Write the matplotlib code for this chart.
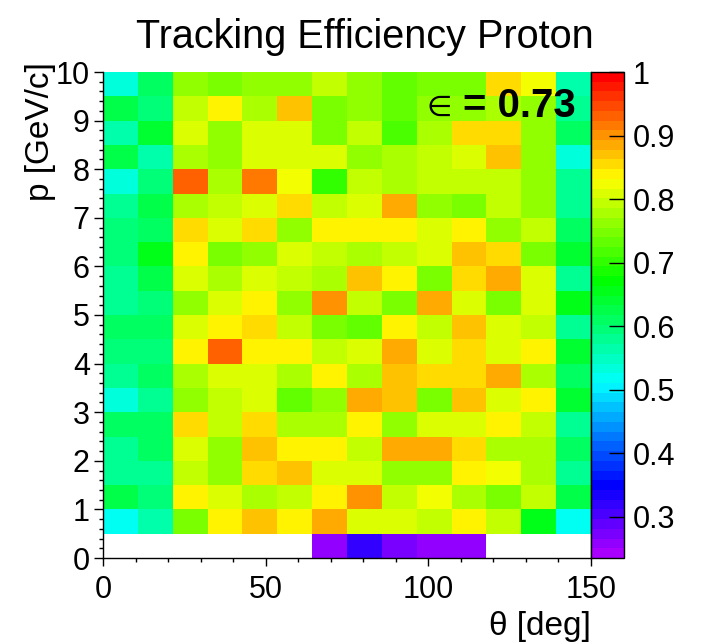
import numpy as np
import matplotlib
matplotlib.use("Agg")
import matplotlib.pyplot as plt
from matplotlib.colors import ListedColormap, Normalize, hsv_to_rgb
from matplotlib.ticker import MultipleLocator

plt.rcParams['font.family'] = ['Liberation Sans', 'DejaVu Sans']

# binning: 14 bins in theta (0-150 deg), 20 bins in p (0-10 GeV/c)
theta_edges = np.linspace(0, 150, 15)
p_edges = np.linspace(0, 10, 21)

# efficiency per bin, rows listed from the top (p = 9.5-10) down to p = 0-0.5
nan = np.nan
eff_rows = [
    [0.54, 0.617, 0.77, 0.74, 0.77, 0.76, 0.80, 0.76, 0.727, 0.75, 0.75, 0.858, 0.826, 0.563],
    [0.628, 0.596, 0.80, 0.836, 0.78, 0.87, 0.74, 0.77, 0.727, 0.76, 0.76, 0.78, 0.77, 0.574],
    [0.563, 0.64, 0.815, 0.77, 0.815, 0.815, 0.74, 0.80, 0.716, 0.78, 0.848, 0.848, 0.76, 0.617],
    [0.628, 0.563, 0.78, 0.77, 0.815, 0.815, 0.815, 0.76, 0.78, 0.80, 0.815, 0.87, 0.76, 0.53],
    [0.54, 0.596, 0.934, 0.78, 0.913, 0.826, 0.705, 0.80, 0.78, 0.793, 0.80, 0.793, 0.76, 0.574],
    [0.585, 0.628, 0.78, 0.793, 0.815, 0.858, 0.793, 0.815, 0.88, 0.77, 0.75, 0.80, 0.76, 0.585],
    [0.596, 0.617, 0.858, 0.815, 0.858, 0.77, 0.84, 0.84, 0.84, 0.815, 0.84, 0.77, 0.793, 0.617],
    [0.596, 0.66, 0.84, 0.74, 0.77, 0.815, 0.80, 0.78, 0.793, 0.815, 0.87, 0.858, 0.74, 0.64],
    [0.574, 0.628, 0.815, 0.78, 0.815, 0.80, 0.78, 0.87, 0.84, 0.75, 0.858, 0.89, 0.815, 0.585],
    [0.574, 0.596, 0.77, 0.815, 0.84, 0.77, 0.90, 0.793, 0.75, 0.88, 0.815, 0.75, 0.815, 0.65],
    [0.617, 0.617, 0.815, 0.84, 0.858, 0.793, 0.74, 0.727, 0.84, 0.793, 0.87, 0.815, 0.80, 0.585],
    [0.596, 0.596, 0.84, 0.934, 0.84, 0.84, 0.80, 0.815, 0.88, 0.815, 0.848, 0.815, 0.84, 0.64],
    [0.574, 0.617, 0.78, 0.815, 0.815, 0.78, 0.84, 0.78, 0.87, 0.858, 0.858, 0.88, 0.78, 0.617],
    [0.54, 0.585, 0.77, 0.80, 0.815, 0.727, 0.77, 0.88, 0.87, 0.75, 0.87, 0.815, 0.84, 0.64],
    [0.617, 0.617, 0.858, 0.80, 0.858, 0.78, 0.78, 0.84, 0.77, 0.815, 0.815, 0.84, 0.80, 0.585],
    [0.574, 0.617, 0.815, 0.77, 0.87, 0.84, 0.84, 0.80, 0.88, 0.89, 0.858, 0.78, 0.78, 0.617],
    [0.585, 0.585, 0.80, 0.77, 0.848, 0.87, 0.815, 0.815, 0.77, 0.76, 0.84, 0.826, 0.78, 0.574],
    [0.62, 0.60, 0.84, 0.815, 0.78, 0.80, 0.84, 0.90, 0.80, 0.826, 0.78, 0.75, 0.80, 0.63],
    [0.52, 0.56, 0.74, 0.84, 0.87, 0.84, 0.89, 0.815, 0.815, 0.80, 0.84, 0.80, 0.65, 0.52],
    [nan, nan, nan, nan, nan, nan, 0.257, 0.312, 0.279, 0.262, 0.262, nan, nan, nan],
]
eff = np.ma.masked_invalid(np.array(eff_rows)[::-1])

cbar_ticks = [0.3, 0.4, 0.5, 0.6, 0.7, 0.8, 0.9, 1.0]
cbar_labels = ['0.3', '0.4', '0.5', '0.6', '0.7', '0.8', '0.9', '1']

# ROOT-like rainbow palette, 50 steps from violet to red
hues = np.linspace(280, 0, 50) / 360.0
pal = hsv_to_rgb(np.column_stack([hues, np.ones(50), np.ones(50)]))
cmap = ListedColormap(pal)
cmap.set_bad('white')
norm = Normalize(vmin=0.235, vmax=1.0)

W, H = 701, 643
fig = plt.figure(figsize=(W / 100, H / 100), dpi=100)
ax = fig.add_axes([103 / W, 85 / H, 488 / W, 486 / H])
mesh = ax.pcolormesh(theta_edges, p_edges, eff, cmap=cmap, norm=norm)
ax.set_xlim(0, 150)
ax.set_ylim(0, 10)

ax.set_xticks([0, 50, 100, 150])
ax.xaxis.set_minor_locator(MultipleLocator(10))
ax.yaxis.set_major_locator(MultipleLocator(1))
ax.yaxis.set_minor_locator(MultipleLocator(0.2))
ax.tick_params(which='major', direction='out', labelsize=22, width=1)
ax.tick_params(axis='x', which='major', length=6, pad=6)
ax.tick_params(axis='y', which='major', length=6.5, pad=3)
ax.tick_params(which='minor', direction='out', length=3, width=1)
ax.spines['top'].set_visible(False)
for s in ['left', 'bottom', 'right']:
    ax.spines[s].set_linewidth(1)

cax = fig.add_axes([591 / W, 85 / H, 33 / W, 486 / H])
cb = fig.colorbar(mesh, cax=cax, ticks=cbar_ticks)
cb.ax.set_yticklabels(cbar_labels)
cax.tick_params(direction='in', length=11, width=1, labelsize=22, pad=6)
cax.minorticks_off()
cb.outline.set_linewidth(1)

fig.text(365 / W, 1 - 37 / H, 'Tracking Efficiency Proton', ha='center', va='center', fontsize=28.5)
fig.text(591 / W, 1 - 626 / H, 'θ [deg]', ha='right', va='center', fontsize=24)
fig.text(40 / W, 1 - 62 / H, 'p [GeV/c]', ha='center', va='top', rotation=90, fontsize=24)

fig.text(427 / W, 1 - 116 / H, '∈', ha='left', va='baseline', fontsize=21, family='DejaVu Sans')
fig.text(463 / W, 1 - 117 / H, '= 0.73', ha='left', va='baseline', fontsize=29, fontweight='bold')

fig.savefig('out.png', dpi=100)
